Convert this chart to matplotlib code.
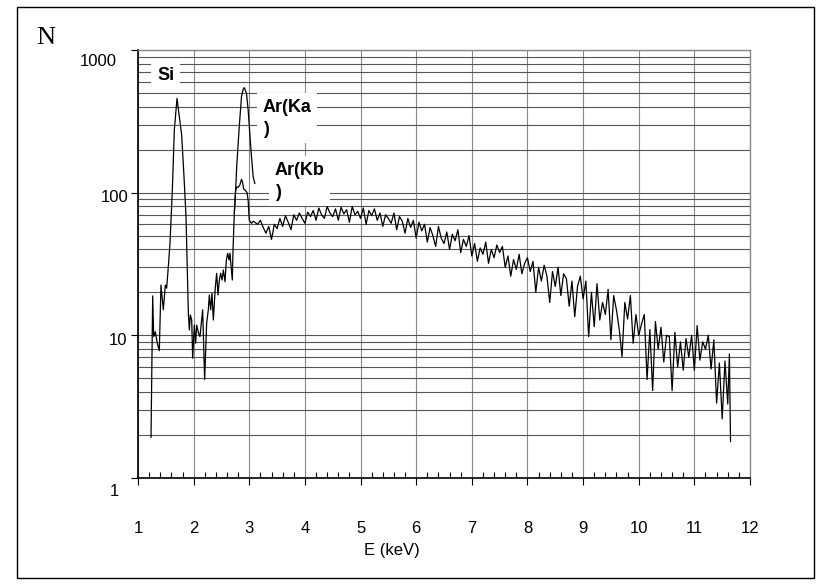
import matplotlib
matplotlib.use("Agg")
import matplotlib.pyplot as plt
from matplotlib.ticker import LogLocator, MultipleLocator, NullFormatter, FixedLocator
from matplotlib.patches import Rectangle
import matplotlib.transforms as mtransforms

# spectrum, low energy part (Si peak, Ar continuum rise)
e_low = [1.234, 1.264, 1.282, 1.311, 1.347, 1.383, 1.413, 1.455, 1.491, 1.515,
         1.545, 1.575, 1.617, 1.653, 1.701, 1.743, 1.785, 1.827, 1.863, 1.905,
         1.923, 1.941, 1.965, 1.983, 2.012, 2.036, 2.054, 2.090, 2.114, 2.162,
         2.198, 2.234, 2.264, 2.282, 2.306, 2.330, 2.354, 2.390, 2.414, 2.438,
         2.462, 2.486, 2.510, 2.534, 2.564, 2.588, 2.612, 2.636, 2.653, 2.695,
         2.707, 2.731]
n_low = [1.93, 18.9, 9.8, 10.6, 8.8, 7.8, 22.5, 15.1, 22.5, 21.4,
         30.3, 44, 104, 275, 458, 341, 253, 129, 68, 14.3,
         10.9, 13.9, 12.8, 6.9, 11.8, 8.8, 11.8, 10.3, 9.8, 15.1,
         4.9, 12.2, 15.1, 19.2, 15.1, 19.7, 12.8, 21.9, 27.2, 19.2,
         24.4, 27.2, 24.4, 28.7, 23.8, 33.7, 37.6, 33.7, 37.6, 24.4,
         38.6, 71.8]

# Ar(Kb) shoulder
e_kb = [2.755, 2.775, 2.80, 2.83, 2.86, 2.88, 2.90, 2.93, 2.96, 2.98, 3.00, 3.04, 3.07]
n_kb = [104, 110, 109, 113, 124, 118, 106, 104, 100, 88, 64, 61, 63]

# continuum
e_cont = [3.10, 3.15, 3.20, 3.25, 3.30, 3.35, 3.40, 3.45, 3.50, 3.55,
          3.60, 3.65, 3.70, 3.75, 3.80, 3.85, 3.90, 3.95, 4.00, 4.05,
          4.10, 4.15, 4.20, 4.25, 4.30, 4.35, 4.40, 4.45, 4.50, 4.55,
          4.60, 4.65, 4.70, 4.75, 4.80, 4.85, 4.90, 4.95, 5.00, 5.05,
          5.10, 5.15, 5.20, 5.25, 5.30, 5.35, 5.40, 5.45, 5.50, 5.55,
          5.60, 5.65, 5.70, 5.75, 5.80, 5.85, 5.90, 5.95, 6.00, 6.05,
          6.10, 6.15, 6.20, 6.25, 6.30, 6.35, 6.40, 6.45, 6.50, 6.55,
          6.60, 6.65, 6.70, 6.75, 6.80, 6.85, 6.90, 6.95, 7.00, 7.05,
          7.10, 7.15, 7.20, 7.25, 7.30, 7.35, 7.40, 7.45, 7.50, 7.55,
          7.60, 7.65, 7.70, 7.75, 7.80, 7.85, 7.90, 7.95, 8.00, 8.05,
          8.10, 8.15, 8.20, 8.25, 8.30, 8.35, 8.40, 8.45, 8.50, 8.55,
          8.60, 8.65, 8.70, 8.75, 8.80, 8.85, 8.90, 8.95, 9.00, 9.05,
          9.10, 9.15, 9.20, 9.25, 9.30, 9.35, 9.40, 9.45, 9.50, 9.55,
          9.60, 9.65, 9.70, 9.75, 9.80, 9.85, 9.90, 9.95, 10.00, 10.05,
          10.10, 10.15, 10.20, 10.25, 10.30, 10.35, 10.40, 10.45, 10.50, 10.55,
          10.60, 10.65, 10.70, 10.75, 10.80, 10.85, 10.90, 10.95, 11.00, 11.05,
          11.10, 11.15, 11.20, 11.25, 11.30, 11.35, 11.40, 11.45, 11.50, 11.55,
          11.60, 11.63, 11.65]
n_cont = [62, 60, 64, 57, 52, 58, 47, 60, 56, 66,
          58, 69, 62, 55, 70, 64, 72, 66, 61, 73,
          68, 75, 64, 78, 70, 66, 80, 72, 68, 77,
          64, 79, 71, 76, 62, 80, 70, 74, 66, 78,
          60, 75, 69, 77, 64, 72, 58, 70, 66, 61,
          72, 55, 68, 63, 52, 66, 57, 64, 48, 62,
          54, 60, 45, 57, 50, 42, 58, 48, 44, 53,
          40, 51, 46, 55, 38, 47, 42, 50, 36, 44,
          33, 41, 37, 45, 32, 40, 35, 43, 38, 42,
          30, 36, 26, 34, 29, 37, 27, 32, 35, 28,
          33, 20, 30, 24, 31, 26, 17, 28, 22, 30,
          19, 27, 25, 16, 24, 13.5, 22, 26, 18, 24,
          9.8, 20, 11.5, 23, 12.8, 17, 14, 21, 9.3, 19,
          15, 11, 7.1, 17, 13, 19, 8.8, 14, 10, 12,
          14, 4.9, 11, 4.1, 12.5, 8, 11.4, 6.5, 10, 9.8,
          4.1, 10.5, 6, 9, 5.7, 9.5, 7, 10, 5.7, 11.7,
          6.7, 9, 8, 10, 5.8, 9.3, 3.35, 6.4, 2.6, 6.6,
          3.3, 7.4, 1.8]

# Ar(Ka) peak
e_ka = [2.731, 2.755, 2.774, 2.80, 2.82, 2.86, 2.89, 2.91, 2.95, 2.98, 3.03, 3.07, 3.10]
n_ka = [72, 104, 152, 220, 290, 471, 530, 545, 497, 380, 200, 129, 116]

x_ticks = [1, 2, 3, 4, 5, 6, 7, 8, 9, 10, 11, 12]
y_ticks = [1, 10, 100, 1000]
y_tick_labels = ["1", "10", "100", "1000"]

W, H = 819, 584
fig = plt.figure(figsize=(W / 100, H / 100), dpi=100)
ax = fig.add_axes([138 / W, 1 - 478 / H, (750 - 138) / W, (478 - 50) / H])

ax.plot(e_low + e_kb + e_cont, n_low + n_kb + n_cont, color="black", lw=0.9)
ax.plot(e_ka, n_ka, color="black", lw=0.9)

ax.set_yscale("log")
ax.set_xlim(1, 12)
ax.set_ylim(1, 1000)

# grid
ax.yaxis.set_major_locator(FixedLocator(y_ticks))
ax.yaxis.set_minor_locator(LogLocator(base=10, subs=[2, 3, 4, 5, 6, 7, 8, 9]))
ax.yaxis.set_major_formatter(NullFormatter())
ax.yaxis.set_minor_formatter(NullFormatter())
ax.xaxis.set_major_locator(FixedLocator(x_ticks))
ax.xaxis.set_minor_locator(MultipleLocator(0.2))
ax.grid(True, axis="y", which="both", color="#555555", lw=0.8)
ax.grid(True, axis="x", which="major", color="#888888", lw=0.8)
ax.set_axisbelow(True)

for s in ["top", "right"]:
    ax.spines[s].set_color("#888888")
    ax.spines[s].set_linewidth(1.0)
for s in ["left", "bottom"]:
    ax.spines[s].set_color("black")
    ax.spines[s].set_linewidth(1.2)

ax.tick_params(axis="x", which="major", direction="out", length=5, width=0.8,
               pad=26, labelsize=12)
ax.tick_params(axis="x", which="minor", direction="in", length=4, width=0.8)
ax.tick_params(axis="y", which="major", direction="out", length=5, width=0.8)
ax.tick_params(axis="y", which="minor", length=0)
for lab in ax.get_xticklabels():
    lab.set_fontfamily("Liberation Sans")

# y labels, placed like the original (Excel-style offsets)
y_right = [119, 127, 128, 117]
y_drop = [14, 5, 4.5, 11]
for v, txt, xr, dy in zip(y_ticks, y_tick_labels, y_right, y_drop):
    tr = mtransforms.blended_transform_factory(fig.transFigure, ax.transData)
    off = mtransforms.ScaledTranslation(0, -dy / 100, fig.dpi_scale_trans)
    fig.text(xr / W, v, txt, transform=tr + off, ha="right", va="center",
             fontsize=12, family="Liberation Sans")

fig.text(392 / W, 1 - 550 / H, "E (keV)", ha="center", va="center",
         fontsize=12, family="Liberation Sans")
fig.text(36 / W, 1 - 38 / H, "N", ha="left", va="center",
         fontsize=19, family="Liberation Serif")

box = dict(facecolor="white", edgecolor="none", pad=4)
fig.text(157 / W, 1 - 67 / H, "Si", ha="left", va="top", fontsize=13,
         fontweight="bold", family="Liberation Sans", bbox=box)
fig.text(263 / W, 1 - 99 / H, "Ar(Ka\n)", ha="left", va="top", fontsize=13,
         fontweight="bold", family="Liberation Sans", bbox=box, linespacing=1.35)
fig.text(275 / W, 1 - 162 / H, "Ar(Kb\n)", ha="left", va="top", fontsize=13,
         fontweight="bold", family="Liberation Sans", bbox=box, linespacing=1.35)

fig.patches.append(Rectangle((17 / W, 1 - 578 / H), (814 - 17) / W, (578 - 7) / H,
                             transform=fig.transFigure, fill=False,
                             edgecolor="black", lw=1.0))

fig.savefig("out.png", dpi=100)
